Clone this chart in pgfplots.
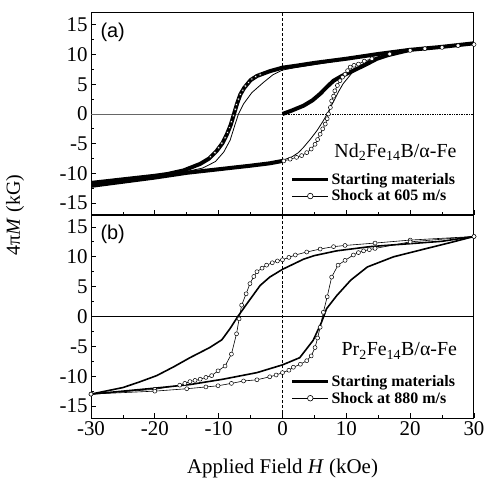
\documentclass[border=0pt]{standalone}
\usepackage{fontspec}
\setmainfont{Liberation Serif}
\newfontfamily\arialf{Liberation Sans}
\usepackage{pgfplots}
\pgfplotsset{compat=1.18}
\begin{document}
\begin{tikzpicture}
\path[use as bounding box] (0bp,0bp) rectangle (487bp,482bp);
\pgfplotsset{
  every axis/.append style={
    scale only axis, width=383bp,
    xmin=-30,xmax=30,ymin=-17,ymax=17,
    xtick={-30,-20,...,30}, minor xtick={-25,-15,...,25},
    ytick={-15,-10,...,15}, minor ytick={-12.5,-7.5,...,12.5},
    tick pos=left, tick align=inside,
    major tick length=5bp, minor tick length=3bp,
    axis line style={line width=1bp},
    every tick/.style={line width=0.8bp, black},
    tick label style={font=\fontsize{21}{21}\selectfont},
    /pgf/number format/assume math mode=true,
    legend cell align=left,
    legend style={draw=none, fill=none, inner sep=0pt, row sep=0bp,
      font=\bfseries\fontsize{16}{17}\selectfont},
    legend image code/.code={\draw[mark repeat=2,mark phase=2,#1] plot coordinates {(0bp,0bp) (18bp,0bp) (36bp,0bp)};},
  }
}
% ---------------- panel (a)
\begin{axis}[at={(91bp,267bp)}, anchor=south west, height=202bp, xticklabels={},
  legend style={at={(axis cs:1.3,-9.6)}, anchor=north west}]
\draw[gray!80!black, line width=0.9bp] (axis cs:-30,0) -- (axis cs:0,0);
\draw[black, line width=0.7bp, densely dotted] (axis cs:0,0) -- (axis cs:30,0);
\draw[black, line width=0.7bp, densely dashed] (axis cs:0,-17) -- (axis cs:0,17);
\addlegendimage{black, line width=2.6bp}
\addlegendentry{Starting materials}
\addlegendimage{black, line width=0.7bp, mark=*, mark size=2.8bp, mark options={fill=white, line width=0.6bp}}
\addlegendentry{Shock at 605 m/s}
% thick band: virgin curve
\addplot[black, line width=4bp, line join=round, forget plot] coordinates {
(0,0) (1.5,0.6) (3.3,1.4) (4.7,2.3) (5.9,3.4) (7.0,4.6) (8.0,5.6) (9.3,6.4) (11.1,7.3) (13.2,8.4) (14.8,9.3) (16.5,9.9) (20,10.8)};
% thick band: descending
\addplot[black, line width=4bp, line join=round, forget plot] coordinates {
(30,11.9) (25,11.3) (20,10.8) (15,10.1) (10,9.3) (5,8.6) (2,8.1) (0,7.8) (-2,7.2) (-3,6.8) (-4,6.4) (-5,5.7) (-6,4.4) (-6.6,3.3) (-7.1,1.8) (-7.6,0) (-8.1,-1.8) (-8.7,-3.4) (-9.4,-4.9) (-10.3,-6.2) (-11.5,-7.5) (-12.9,-8.4) (-15.5,-9.5) (-18,-10.1) (-20,-10.4) (-25,-11.0) (-30,-11.6)};
% thick band: ascending back to zero
\addplot[black, line width=4bp, line join=round, forget plot] coordinates {
(-30,-12.1) (-25,-11.4) (-20,-10.7) (-15,-9.9) (-10,-9.3) (-5,-8.7) (-2,-8.3) (0,-7.9)};
% texture of dense circles on the band
\addplot[only marks, mark=*, mark size=1.3bp, mark options={fill=white, draw=black, line width=0.35bp}, forget plot] coordinates {
(-3.5,6.6) (-4.2,6.3) (-4.8,5.9) (-5.3,5.3) (-5.8,4.7) (-6.2,4.0) (-6.6,3.3) (-6.9,2.5) (-7.2,1.6) (-7.4,0.8) (-7.7,-0.3) (-8.0,-1.3) (-8.3,-2.3) (-8.6,-3.1) (-9.0,-4.0) (-9.5,-4.9) (-10.0,-5.7) (-10.6,-6.5) (-11.3,-7.2)};
% thin line descending
\addplot[black, line width=0.8bp, forget plot] coordinates {
(15,10.0) (10,9.2) (5,8.3) (2,7.8) (0,7.4) (-1.5,6.6) (-3,5.3) (-4.8,3.6) (-6.1,1.7) (-6.9,0) (-7.5,-2) (-8.2,-4.4) (-9.2,-6.4) (-10.5,-8.0) (-12.5,-9.1) (-16,-9.9)};
% thin line ascending
\addplot[black, line width=0.8bp, forget plot] coordinates {
(0,-7.8) (1.5,-7.2) (2.5,-6.5) (3.3,-5.6) (4.4,-4.2) (5.4,-2.8) (6.3,-1.3) (7.0,0) (7.6,1.3) (8.2,2.5) (8.8,3.8) (9.5,5.1) (10.8,6.8) (12.1,8.1) (14,9.3) (16,9.9)};
% shock ascending with circles
\addplot[black, line width=0.6bp, mark=*, mark size=2bp, mark options={fill=white, line width=0.5bp}, forget plot] coordinates {
(0.2,-7.9) (1.2,-7.6) (2.2,-7.3) (3.0,-7.0) (3.8,-6.5) (4.5,-5.9) (5.1,-5.1) (5.5,-4.3) (5.9,-3.4) (6.3,-2.5) (6.7,-1.7) (7.0,-0.8) (7.2,0) (7.5,1.1) (7.7,2.2) (8.0,3.0) (8.2,3.9) (8.6,4.8) (9.0,5.6) (9.4,6.2) (9.8,6.7) (10.2,7.3) (10.6,7.9) (11.2,8.2) (11.9,8.4) (12.8,8.9) (14.0,9.3) (16.8,10.1) (20,10.7) (22.3,11.0) (25,11.2) (27.5,11.5) (30,11.7)};
\node[font=\arialf\fontsize{20}{20}\selectfont] at (axis cs:-26.6,13.7) {(a)};
\node[font=\fontsize{20}{20}\selectfont, anchor=base] at (axis cs:17.7,-7.3) {Nd\textsubscript{2}Fe\textsubscript{14}B/α-Fe};
\end{axis}
% ---------------- panel (b)
\begin{axis}[at={(91bp,64bp)}, anchor=south west, height=203bp,
  legend style={at={(axis cs:1.3,-9.5)}, anchor=north west}]
\draw[black, line width=0.8bp] (axis cs:-30,0) -- (axis cs:30,0);
\draw[black, line width=0.7bp, densely dashed] (axis cs:0,-17) -- (axis cs:0,17);
\addlegendimage{black, line width=2.6bp}
\addlegendentry{Starting materials}
\addlegendimage{black, line width=0.7bp, mark=*, mark size=2.8bp, mark options={fill=white, line width=0.6bp}}
\addlegendentry{Shock at 880 m/s}
% starting materials loop
\addplot[black, line width=1.6bp, line join=round, forget plot] coordinates {
(30,13.4) (25,12.6) (20,12.2) (17.4,12.0) (13.7,11.7) (8.5,11.0) (5,10.2) (3.3,9.6) (0,7.9) (-2,6.6) (-3.5,5.2) (-5.6,2.1) (-7.0,0) (-8.2,-2.0) (-9.5,-3.9) (-11.4,-5.2) (-14.5,-6.9) (-17,-8.4) (-19.7,-9.9) (-22.5,-11.0) (-25,-11.9) (-30,-13.0)};
\addplot[black, line width=1.6bp, line join=round, forget plot] coordinates {
(-30,-13.0) (-25,-12.5) (-20,-12.0) (-14.5,-11.4) (-9.3,-10.5) (-4,-9.4) (0,-8.1) (2.7,-6.9) (4.8,-4.0) (6.1,-1.0) (6.9,1.3) (8.5,3.5) (10.7,6.1) (13.3,8.3) (17.4,10.0) (22.6,11.4) (26,12.3) (30,13.4)};
% shock loop with circles
\addplot[black, line width=0.6bp, mark=*, mark size=2bp, mark options={fill=white, line width=0.5bp}, forget plot] coordinates {
(30,13.4) (20,12.8) (14.5,12.3) (9.8,11.9) (8,11.7) (5.9,11.3) (3.8,10.8) (2,10.3) (1,9.9) (0,9.5) (-0.8,9.3) (-1.6,9.0) (-2.5,8.6) (-3.2,8.1) (-4,7.5) (-4.5,6.7) (-5.1,5.5) (-5.7,3.8) (-6.4,1.9) (-6.8,-0.4) (-7.2,-2.9) (-8.0,-6.3) (-9.0,-8.3) (-10.1,-9.1) (-11.1,-9.9) (-12,-10.2) (-12.9,-10.5) (-13.7,-10.7) (-14.5,-10.9) (-15.3,-11.2) (-16.1,-11.5) (-20,-12.2) (-30,-13.0)};
\addplot[black, line width=0.6bp, mark=*, mark size=2bp, mark options={fill=white, line width=0.5bp}, forget plot] coordinates {
(-30,-13.0) (-20,-12.5) (-15,-12.1) (-12,-11.8) (-10.1,-11.6) (-8,-11.2) (-6.1,-10.8) (-4,-10.6) (-2,-10.1) (-1,-9.8) (0,-9.4) (1,-9.0) (1.7,-8.5) (2.8,-8.0) (3.8,-7.4) (4.5,-6.6) (5.1,-5.2) (5.5,-3.6) (5.9,-1.8) (6.4,0.7) (7.0,3.3) (7.7,6.6) (8.7,8.6) (9.8,9.4) (11.1,10.3) (11.9,10.7) (12.7,11.0) (13.6,11.2) (14.5,11.4) (20,12.5) (30,13.4)};
\node[font=\arialf\fontsize{20}{20}\selectfont] at (axis cs:-26.6,13.7) {(b)};
\node[font=\fontsize{20}{20}\selectfont, anchor=base] at (axis cs:18.3,-6.6) {Pr\textsubscript{2}Fe\textsubscript{14}B/α-Fe};
\end{axis}
\node[rotate=90, font=\fontsize{20}{20}\selectfont] at (15bp,267bp) {4π\textit{M} (kG)};
\node[font=\fontsize{21}{21}\selectfont] at (282.5bp,14bp) {Applied Field \textit{H} (kOe)};
\end{tikzpicture}
\end{document}
